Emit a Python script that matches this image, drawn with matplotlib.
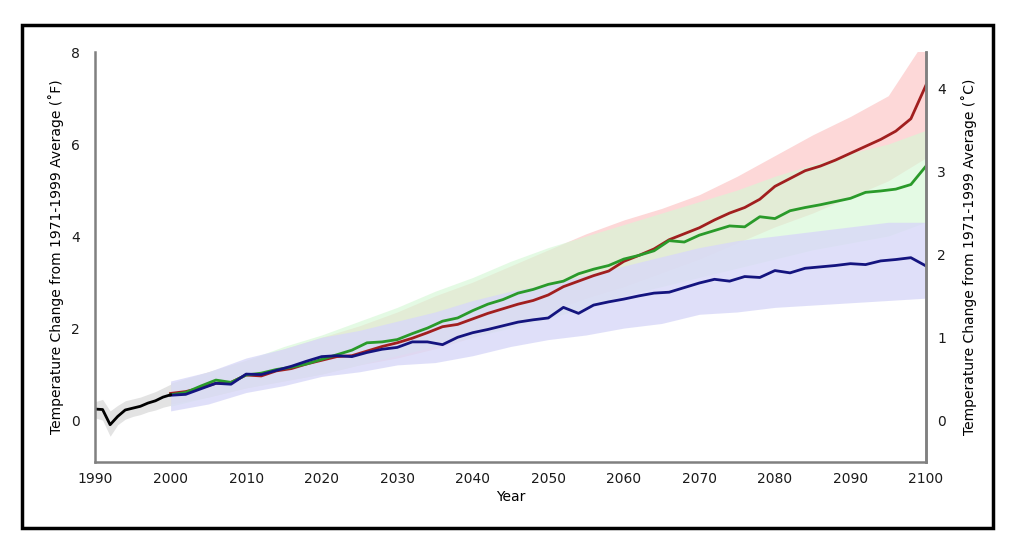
import numpy as np
import matplotlib.pyplot as plt
from matplotlib.patches import Rectangle

# observed (black) 1990-2000
obs_years = np.arange(1990, 2001)
obs = [0.24, 0.23, -0.10, 0.08, 0.22, 0.26, 0.30, 0.37, 0.42, 0.50, 0.55]
obs_lo = [0.05, 0.0, -0.35, -0.1, 0.02, 0.08, 0.12, 0.18, 0.22, 0.28, 0.32]
obs_hi = [0.40, 0.45, 0.20, 0.32, 0.42, 0.46, 0.50, 0.56, 0.62, 0.70, 0.78]

# projections, every 2 years 2000-2100
years = np.arange(2000, 2101, 2)
red = [0.58, 0.62, 0.70, 0.80, 0.82, 0.98, 0.96, 1.07, 1.12, 1.22,
       1.30, 1.38, 1.40, 1.50, 1.60, 1.68, 1.78, 1.90, 2.03, 2.08,
       2.20, 2.32, 2.42, 2.52, 2.60, 2.72, 2.90, 3.02, 3.14, 3.24,
       3.45, 3.58, 3.72, 3.92, 4.05, 4.18, 4.35, 4.50, 4.62, 4.80,
       5.08, 5.25, 5.42, 5.52, 5.65, 5.80, 5.95, 6.10, 6.28, 6.55,
       7.28]
green = [0.55, 0.60, 0.74, 0.87, 0.82, 0.98, 1.02, 1.10, 1.15, 1.22,
         1.32, 1.42, 1.52, 1.68, 1.70, 1.75, 1.88, 2.00, 2.15, 2.22,
         2.38, 2.52, 2.62, 2.76, 2.84, 2.95, 3.02, 3.18, 3.28, 3.36,
         3.50, 3.58, 3.68, 3.90, 3.87, 4.02, 4.12, 4.22, 4.20, 4.42,
         4.38, 4.55, 4.62, 4.68, 4.75, 4.82, 4.95, 4.98, 5.02, 5.12,
         5.52]
blue = [0.54, 0.56, 0.68, 0.80, 0.78, 1.00, 0.99, 1.08, 1.17, 1.28,
        1.38, 1.40, 1.38, 1.47, 1.54, 1.58, 1.70, 1.70, 1.64, 1.80,
        1.90, 1.97, 2.05, 2.13, 2.18, 2.22, 2.45, 2.32, 2.50, 2.57,
        2.63, 2.70, 2.76, 2.78, 2.88, 2.98, 3.06, 3.02, 3.12, 3.10,
        3.25, 3.20, 3.30, 3.33, 3.36, 3.40, 3.38, 3.46, 3.49, 3.53,
        3.35]

# uncertainty ranges, every 5 years 2000-2100
band_years = np.arange(2000, 2101, 5)
red_lo = [0.35, 0.5, 0.7, 0.85, 1.0, 1.2, 1.35, 1.55, 1.8, 2.05, 2.35,
          2.65, 2.9, 3.2, 3.5, 3.85, 4.2, 4.5, 4.85, 5.2, 5.7]
red_hi = [0.8, 1.05, 1.3, 1.55, 1.8, 2.05, 2.35, 2.7, 3.0, 3.35, 3.7,
          4.05, 4.35, 4.6, 4.9, 5.3, 5.75, 6.2, 6.6, 7.05, 8.3]
green_lo = [0.3, 0.5, 0.7, 0.85, 1.0, 1.2, 1.4, 1.6, 1.8, 2.0, 2.2,
            2.45, 2.7, 2.9, 3.1, 3.3, 3.5, 3.7, 3.85, 4.0, 4.3]
green_hi = [0.8, 1.05, 1.3, 1.6, 1.85, 2.15, 2.45, 2.8, 3.1, 3.45, 3.75,
            4.0, 4.25, 4.5, 4.75, 5.0, 5.3, 5.55, 5.8, 6.0, 6.3]
blue_lo = [0.2, 0.35, 0.6, 0.75, 0.95, 1.05, 1.2, 1.25, 1.4, 1.6, 1.75,
           1.85, 2.0, 2.1, 2.3, 2.35, 2.45, 2.5, 2.55, 2.6, 2.65]
blue_hi = [0.85, 1.05, 1.35, 1.55, 1.8, 1.95, 2.15, 2.35, 2.6, 2.8, 2.95,
           3.15, 3.35, 3.55, 3.75, 3.9, 4.0, 4.1, 4.2, 4.3, 4.3]

fig = plt.figure(figsize=(10.24, 5.55), dpi=100)
fig.patches.append(Rectangle((0.0215, 0.0486), 0.948, 0.906, transform=fig.transFigure,
                             fill=False, edgecolor='black', linewidth=2.5))

ax = fig.add_axes([0.0928, 0.1676, 0.8115, 0.7387])

# red band underneath, green and blue laid over it
ax.fill_between(band_years, red_lo, red_hi, color='#fdd8d8', lw=0)
ax.fill_between(band_years, green_lo, green_hi, color='#d6f8d6', alpha=0.65, lw=0)
ax.fill_between(band_years, blue_lo, blue_hi, color='#d8d8f8', alpha=0.8, lw=0)
ax.fill_between(obs_years, obs_lo, obs_hi, color='#dcdcdc', alpha=0.8, lw=0)

ax.plot(years, red, color='#a11f1f', lw=2)
ax.plot(years, green, color='#2a9a2a', lw=2)
ax.plot(years, blue, color='#14147f', lw=2)
ax.plot(obs_years, obs, color='black', lw=2)

ax.set_xlim(1990, 2100)
ax.set_ylim(-0.91, 8.0)
ax.set_xticks(np.arange(1990, 2101, 10))
ax.set_yticks([0, 2, 4, 6, 8])
ax.tick_params(length=0, labelsize=10, colors='#1a1a1a')
ax.tick_params(axis='y', pad=11)
ax.tick_params(axis='x', pad=7)
for s in ['left', 'bottom', 'right']:
    ax.spines[s].set_color('#808080')
    ax.spines[s].set_linewidth(1.8)
ax.spines['top'].set_visible(False)
ax.set_xlabel('Year', fontsize=10, labelpad=3)
ax.set_ylabel('Temperature Change from 1971-1999 Average (˚F)', fontsize=10, labelpad=5)

ax2 = ax.twinx()
ax2.set_ylim(-0.91 / 1.8, 8.0 / 1.8)
ax2.set_yticks([0, 1, 2, 3, 4])
ax2.tick_params(length=0, labelsize=10, pad=8, colors='#1a1a1a')
for s in ['left', 'bottom', 'top']:
    ax2.spines[s].set_visible(False)
ax2.spines['right'].set_color('#808080')
ax2.spines['right'].set_linewidth(1.8)
ax2.set_ylabel('Temperature Change from 1971-1999 Average (˚C)', fontsize=10, labelpad=11)

fig.savefig('out.png', dpi=100)
